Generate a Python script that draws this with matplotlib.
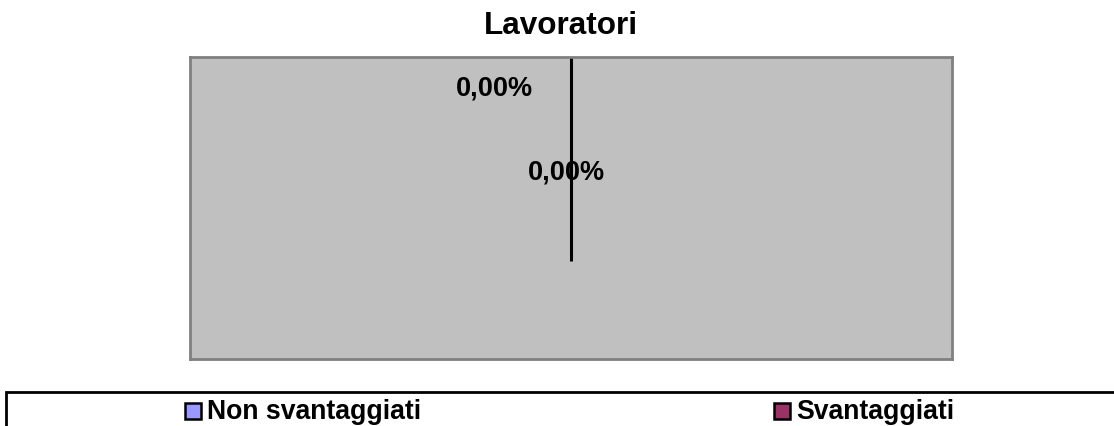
import numpy as np
import matplotlib.pyplot as plt
from matplotlib.patches import Rectangle

# Dati
categorie = ["Non svantaggiati", "Svantaggiati"]
valori = [0.0, 0.0]
colori = ["#9999FF", "#993366"]
titolo = "Lavoratori"

plt.rcParams['font.family'] = ['Liberation Sans', 'DejaVu Sans']
plt.rcParams['font.weight'] = 'bold'

W, H, DPI = 1114, 427, 100
fig = plt.figure(figsize=(W / DPI, H / DPI), dpi=DPI)

# area del grafico (pixel)
x0, y0, x1, y1 = 190, 58, 952, 360
ax = fig.add_axes([x0 / W, 1 - y1 / H, (x1 - x0) / W, (y1 - y0) / H])
ax.set_facecolor("#C0C0C0")
for s in ax.spines.values():
    s.set_color("#808080")
    s.set_linewidth(2)
ax.set_xticks([])
ax.set_yticks([])

# centro torta a (571, 262), raggio 204 px
r = 204
cx, cy = 571, 262
ax.set_xlim(-(cx - x0) / r, (x1 - cx) / r)
ax.set_ylim(-(y1 - cy) / r, (cy - y0) / r)

# bordi delle fette (tutte a zero -> una sola linea verticale)
tot = sum(valori)
frazioni = [v / tot if tot else 0.0 for v in valori]
start = 90.0
angoli = [start]
for f in frazioni:
    angoli.append(angoli[-1] - 360 * f)
for a in sorted(set(angoli)):
    t = np.deg2rad(a)
    ax.plot([0, np.cos(t)], [0, np.sin(t)], color="black", lw=2.2,
            solid_capstyle="butt", clip_on=False)

# etichette percentuali
pos_etichette = [(-0.375, 0.85), (-0.02, 0.44)]
for f, (lx, ly) in zip(frazioni, pos_etichette):
    testo = f"{f * 100:.2f}%".replace(".", ",")
    ax.text(lx, ly, testo, ha="center", va="center", fontsize=19.5,
            fontweight="bold", color="black")

fig.text(561 / W, 1 - 26 / H, titolo, ha="center", va="center",
         fontsize=22.7, fontweight="bold")

# legenda
fig.patches.append(Rectangle((6 / W, -0.1), 1.2, 1.1 - 393 / H, transform=fig.transFigure,
                             facecolor="white", edgecolor="black", lw=2))
leg_x = [185, 774]
for nome, col, lx in zip(categorie, colori, leg_x):
    fig.patches.append(Rectangle((lx / W, 1 - 420 / H), 16 / W, 16 / H,
                                 transform=fig.transFigure, facecolor=col,
                                 edgecolor="black", lw=1.8))
    fig.text((lx + 22) / W, 1 - 412 / H, nome, ha="left", va="center",
             fontsize=19.2, fontweight="bold")

fig.savefig("out.png", dpi=DPI)
